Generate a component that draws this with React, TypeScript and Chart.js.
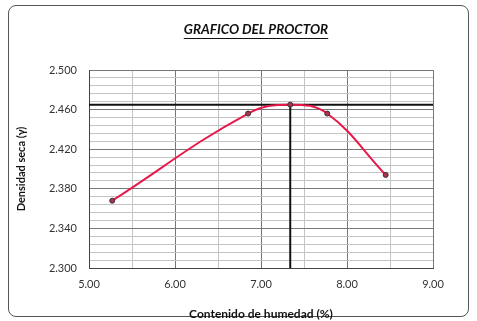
import React, { useEffect, useRef } from "react";
import { Chart, registerables } from "chart.js";
Chart.register(...registerables);

const humedad = [5.27, 6.85, 7.34, 7.77, 8.45];
const densidad = [2.368, 2.456, 2.465, 2.456, 2.394];
const optimaHumedad = 7.34;
const maxDensidad = 2.465;
const xMin = 5, xMax = 9, xStep = 0.5;
const yMin = 2.3, yMax = 2.5, yStep = 0.008;
const titleText = "GRAFICO DEL PROCTOR";
const xTitle = "Contenido de humedad (%)";
const yTitle = "Densidad seca (\u03B3)";

const isMajorY = (v: number) => Math.round(v * 1000 - yMin * 1000) % 40 === 0;
const isMajorX = (v: number) => Math.abs(v - Math.round(v)) < 1e-6;

const titlePlugin = {
  id: "customTitle",
  afterDraw(chart: any) {
    const ctx = chart.ctx;
    ctx.save();
    ctx.font = "italic bold 13.5px Lato";
    ctx.fillStyle = "#111";
    ctx.textAlign = "center";
    ctx.textBaseline = "middle";
    const cx = 256;
    const cy = 30;
    ctx.fillText(titleText, cx, cy);
    const w = ctx.measureText(titleText).width;
    ctx.strokeStyle = "#111";
    ctx.lineWidth = 1;
    ctx.beginPath();
    ctx.moveTo(cx - w / 2, cy + 8.5);
    ctx.lineTo(cx + w / 2, cy + 8.5);
    ctx.stroke();
    ctx.restore();
  },
};

export default function App() {
  const ref = useRef<HTMLCanvasElement>(null);
  useEffect(() => {
    const chart = new Chart(ref.current!, {
      type: "scatter",
      data: {
        datasets: [
          {
            data: humedad.map((x, i) => ({ x, y: densidad[i] })),
            showLine: true,
            borderColor: "#e8194a",
            borderWidth: 2,
            tension: 0.4,
            pointStyle: "circle",
            pointRadius: 2.5,
            pointBackgroundColor: "#b03050",
            pointBorderColor: "#333",
            pointBorderWidth: 1,
            order: 1,
          },
          {
            data: [{ x: xMin, y: maxDensidad }, { x: xMax, y: maxDensidad }],
            showLine: true,
            borderColor: "#111",
            borderWidth: 2,
            pointRadius: 0,
            order: 2,
          },
          {
            data: [{ x: optimaHumedad, y: yMin }, { x: optimaHumedad, y: maxDensidad }],
            showLine: true,
            borderColor: "#111",
            borderWidth: 2,
            pointRadius: 0,
            order: 2,
          },
        ],
      },
      options: {
        animation: false,
        responsive: false,
        maintainAspectRatio: false,
        layout: { padding: { left: 15, right: 44, top: 70, bottom: 0 } },
        plugins: {
          legend: { display: false },
          tooltip: { enabled: false },
          title: { display: false },
        },
        scales: {
          x: {
            type: "linear",
            min: xMin,
            max: xMax,
            afterFit(s: any) { s.height = 53; },
            ticks: {
              stepSize: xStep,
              autoSkip: false,
              maxRotation: 0,
              color: "#333",
              font: { family: "Lato", size: 11 },
              padding: 10,
              callback: (v: any) => (isMajorX(v) ? Number(v).toFixed(2) : ""),
            },
            grid: {
              color: (c: any) => (isMajorX(c.tick.value) ? "#777" : "#c4c4c4"),
              drawTicks: false,
            },
            border: { color: "#444", width: 1 },
            title: {
              display: true,
              text: xTitle,
              color: "#111",
              font: { family: "Lato", size: 12, weight: "bold" },
              padding: { top: 12, bottom: 0 },
            },
          },
          y: {
            type: "linear",
            min: yMin,
            max: yMax,
            afterFit(s: any) { s.width = 74; },
            ticks: {
              stepSize: yStep,
              autoSkip: false,
              color: "#333",
              font: { family: "Lato", size: 11 },
              padding: 12,
              callback: (v: any) => (isMajorY(v) ? Number(v).toFixed(3) : ""),
            },
            grid: {
              color: (c: any) => (isMajorY(c.tick.value) ? "#777" : "#c4c4c4"),
              drawTicks: false,
            },
            border: { color: "#444", width: 1 },
            title: {
              display: true,
              text: yTitle,
              color: "#111",
              font: { family: "Lato", size: 11, weight: "bold" },
              padding: { top: 0, bottom: 8 },
            },
          },
        },
      },
      plugins: [titlePlugin],
    });
    return () => chart.destroy();
  }, []);
  return (
    <div style={{ position: "fixed", left: 0, top: 0, width: 477, height: 321, background: "#fff" }}>
      <div
        style={{
          position: "absolute",
          left: 8,
          top: 5,
          width: 461,
          height: 312,
          border: "1px solid #555",
          borderRadius: 8,
          boxSizing: "border-box",
        }}
      />
      <canvas ref={ref} width={477} height={321} style={{ position: "absolute", left: 0, top: 0 }} />
    </div>
  );
}
